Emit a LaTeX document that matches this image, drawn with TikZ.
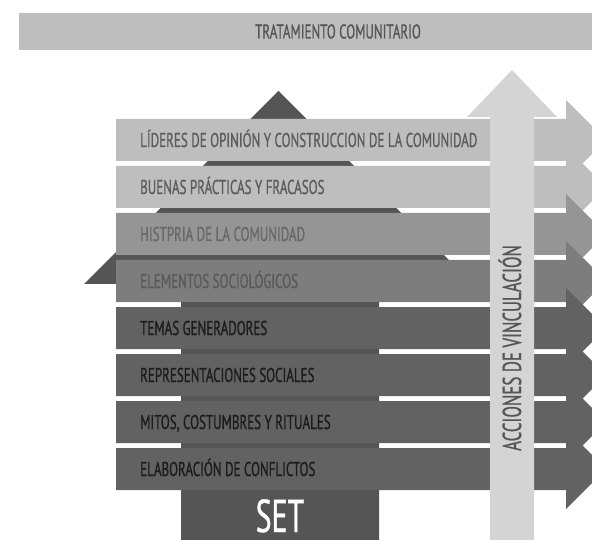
\documentclass[tikz,border=0pt]{standalone}
\usepackage{fontspec}
\setmainfont{PT Sans}[FakeStretch=0.65,FakeBold=0.8]

\definecolor{barlight}{HTML}{BEBEBE}
\definecolor{barmid}{HTML}{959595}
\definecolor{barsoft}{HTML}{7D7D7D}
\definecolor{bardark}{HTML}{626262}
\definecolor{housegray}{HTML}{555555}
\definecolor{shaftgray}{HTML}{D4D4D4}
\definecolor{inklight}{HTML}{5C5C5C}
\definecolor{inkmid}{HTML}{686868}
\definecolor{inksoft}{HTML}{5A5A5A}
\definecolor{inkdark}{HTML}{1C1C1C}

\tikzset{
  rowtext/.style={anchor=base west, inner sep=0pt, font=\fontsize{20}{20}\selectfont},
  toptext/.style={anchor=base, inner sep=0pt, text=housegray, font=\fontsize{20}{20}\selectfont},
  sidetext/.style={anchor=base, inner sep=0pt, rotate=90, text=housegray, font=\fontsize{26}{26}\selectfont},
  settext/.style={anchor=base, inner sep=0pt, text=white, font=\fontsize{46}{46}\selectfont}
}

\begin{document}
\begin{tikzpicture}[x=1pt,y=-1pt]
\useasboundingbox (0,0) rectangle (592,540);
\clip (0,0) rectangle (592,540);

% banner on top
\fill[barlight] (19,13) rectangle (600,50);
\node[toptext] (tratamiento) at (338,38.5) {TRATAMIENTO COMUNITARIO};

% house behind the rows
\fill[housegray] (278.5,91) -- (473,284) -- (379,284) -- (379,545)
  -- (181,545) -- (181,284) -- (84,284) -- cycle;

% rows, each one a band with a head on the right
\fill[barlight] (116,140-21) -- (566,140-21) -- (566,140-40) -- (606,140)
  -- (566,140+40) -- (566,140+21) -- (116,140+21) -- cycle;
\fill[barlight] (116,187-21) -- (566,187-21) -- (566,187-40) -- (606,187)
  -- (566,187+40) -- (566,187+21) -- (116,187+21) -- cycle;
\fill[barmid] (116,234-21) -- (566,234-21) -- (566,234-40) -- (606,234)
  -- (566,234+40) -- (566,234+21) -- (116,234+21) -- cycle;
\fill[barsoft] (116,281-21) -- (566,281-21) -- (566,281-40) -- (606,281)
  -- (566,281+40) -- (566,281+21) -- (116,281+21) -- cycle;
\fill[bardark] (116,328-21) -- (566,328-21) -- (566,328-40) -- (606,328)
  -- (566,328+40) -- (566,328+21) -- (116,328+21) -- cycle;
\fill[bardark] (116,375-21) -- (566,375-21) -- (566,375-40) -- (606,375)
  -- (566,375+40) -- (566,375+21) -- (116,375+21) -- cycle;
\fill[bardark] (116,422-21) -- (566,422-21) -- (566,422-40) -- (606,422)
  -- (566,422+40) -- (566,422+21) -- (116,422+21) -- cycle;
\fill[bardark] (116,469-21) -- (566,469-21) -- (566,469-40) -- (606,469)
  -- (566,469+40) -- (566,469+21) -- (116,469+21) -- cycle;

% vertical arrow over the rows
\fill[shaftgray] (490,545) -- (490,117) -- (467,117) -- (512,70)
  -- (557,117) -- (534,117) -- (534,545) -- cycle;

% row texts
\node[rowtext, text=inklight] (lideres) at (140,140+7) {LÍDERES DE OPINIÓN Y CONSTRUCCION DE LA COMUNIDAD};
\node[rowtext, text=inklight] (buenas) at (140,187+7) {BUENAS PRÁCTICAS Y FRACASOS};
\node[rowtext, text=inkmid] (historia) at (140,234+7) {HISTPRIA DE LA COMUNIDAD};
\node[rowtext, text=inksoft] (elementos) at (140,281+7) {ELEMENTOS SOCIOLÓGICOS};
\node[rowtext, text=inkdark] (temas) at (140,328+7) {TEMAS GENERADORES};
\node[rowtext, text=inkdark] (representaciones) at (140,375+7) {REPRESENTACIONES SOCIALES};
\node[rowtext, text=inkdark] (mitos) at (140,422+7) {MITOS, COSTUMBRES Y RITUALES};
\node[rowtext, text=inkdark] (conflictos) at (140,469+7) {ELABORACIÓN DE CONFLICTOS};

\node[sidetext] (acciones) at (521,348) {ACCIONES DE VINCULACIÓN};
\node[settext] (set) at (280,532) {SET};

\end{tikzpicture}
\end{document}
